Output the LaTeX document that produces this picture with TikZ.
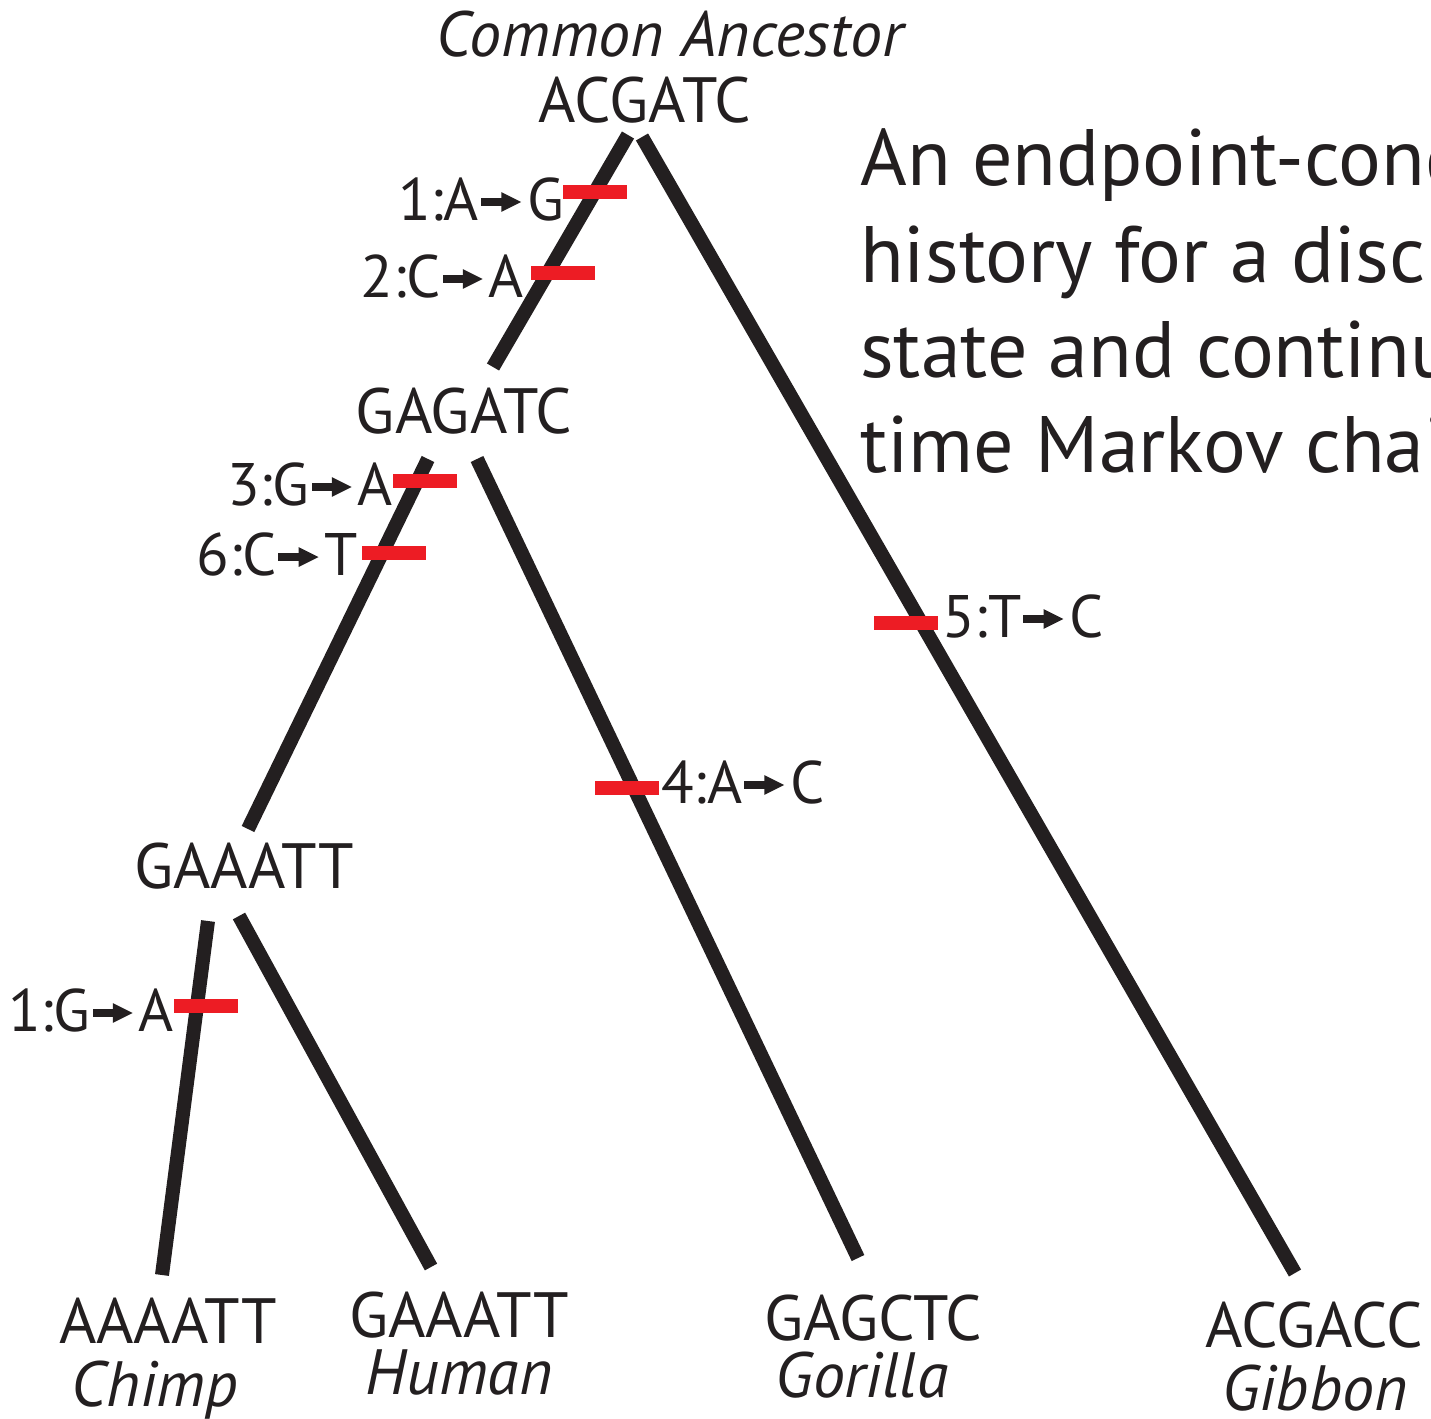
\documentclass[tikz,border=0pt]{standalone}
\usepackage{fontspec}
\setmainfont{PT Sans}
\definecolor{ink}{HTML}{231F20}
\definecolor{mred}{HTML}{ED1C24}
\newcommand\mutarrow{\kern0.03em\tikz[baseline=0pt,x=1em,y=1em]{\fill[ink] (0,0.235) rectangle (0.4,0.365); \fill[ink] (0.34,0.135)--(0.67,0.3)--(0.34,0.465)--cycle;}\kern0.1em}
\begin{document}
\begin{tikzpicture}[x=1pt,y=-1pt,
  branch/.style={draw=ink, line width=14pt},
  mutbar/.style={fill=mred, draw=none, minimum width=64pt, minimum height=14pt, inner sep=0pt},
  lab/.style={font=\fontsize{60}{72}\selectfont, text=ink, inner sep=0pt},
  seq/.style={lab, font=\fontsize{64}{76}\selectfont},
  spec/.style={lab, font=\fontsize{64}{76}\selectfont\itshape},
  big/.style={font=\fontsize{80}{96}\selectfont, text=ink, inner sep=0pt, anchor=base west}]
\useasboundingbox (0,0) rectangle (1431,1418);
\clip (0,0) rectangle (1431,1418);

% headings and sequences
\node[spec, anchor=base] (ca) at (670,57) {Common Ancestor};
\node[seq, anchor=base] (root) at (645,122) {ACGATC};
\node[seq, anchor=base] (n1) at (464,433) {GAGATC};
\node[seq, anchor=base] (n2) at (244,888) {GAAATT};
\node[seq, anchor=base] (chs) at (168,1343) {AAAATT};
\node[spec, anchor=base] (chn) at (155,1406) {Chimp};
\node[seq, anchor=base] (hus) at (459,1337) {GAAATT};
\node[spec, anchor=base] (hun) at (459,1394) {Human};
\node[seq, anchor=base] (gos) at (873,1340) {GAGCTC};
\node[spec, anchor=base] (gon) at (862,1397) {Gorilla};
\node[seq, anchor=base] (gis) at (1314,1347) {ACGACC};
\node[spec, anchor=base] (gin) at (1315,1410) {Gibbon};

% description
\node[big] (t1) at (860,185) {An endpoint-conditioned};
\node[big] (t2) at (860,282) {history for a discrete};
\node[big] (t3) at (860,377) {state and continuous};
\node[big] (t4) at (860,472) {time Markov chain};

% branch end points
\coordinate (rL1) at (628,135); \coordinate (rL2) at (493,367);
\coordinate (rR1) at (642,137); \coordinate (rR2) at (1295,1273);
\coordinate (aL1) at (428,459); \coordinate (aL2) at (248,829);
\coordinate (aR1) at (477,459); \coordinate (aR2) at (858,1258);
\coordinate (bL1) at (208,921); \coordinate (bL2) at (162,1275);
\coordinate (bR1) at (239,916); \coordinate (bR2) at (431,1267);

\draw[branch] (rL1) -- (rL2);
\draw[branch] (rR1) -- (rR2);
\draw[branch] (aL1) -- (aL2);
\draw[branch] (aR1) -- (aR2);
\draw[branch] (bL1) -- (bL2);
\draw[branch] (bR1) -- (bR2);

% mutation bars
\node[mutbar] (b1) at (595,192) {};
\node[mutbar] (b2) at (563,273) {};
\node[mutbar] (b3) at (425,481) {};
\node[mutbar] (b6) at (394,553) {};
\node[mutbar] (b5) at (906,623) {};
\node[mutbar] (b4) at (627,788) {};
\node[mutbar] (b7) at (206,1006) {};

% mutation labels
\node[lab, anchor=base east] (m1) at (564,220) {1:A\mutarrow G};
\node[lab, anchor=base east] (m2) at (524,297) {2:C\mutarrow A};
\node[lab, anchor=base east] (m3) at (393,505) {3:G\mutarrow A};
\node[lab, anchor=base east] (m6) at (358,575) {6:C\mutarrow T};
\node[lab, anchor=base west] (m5) at (942,637) {5:T\mutarrow C};
\node[lab, anchor=base west] (m4) at (661,803) {4:A\mutarrow C};
\node[lab, anchor=base east] (m7) at (174,1031) {1:G\mutarrow A};
\end{tikzpicture}
\end{document}
